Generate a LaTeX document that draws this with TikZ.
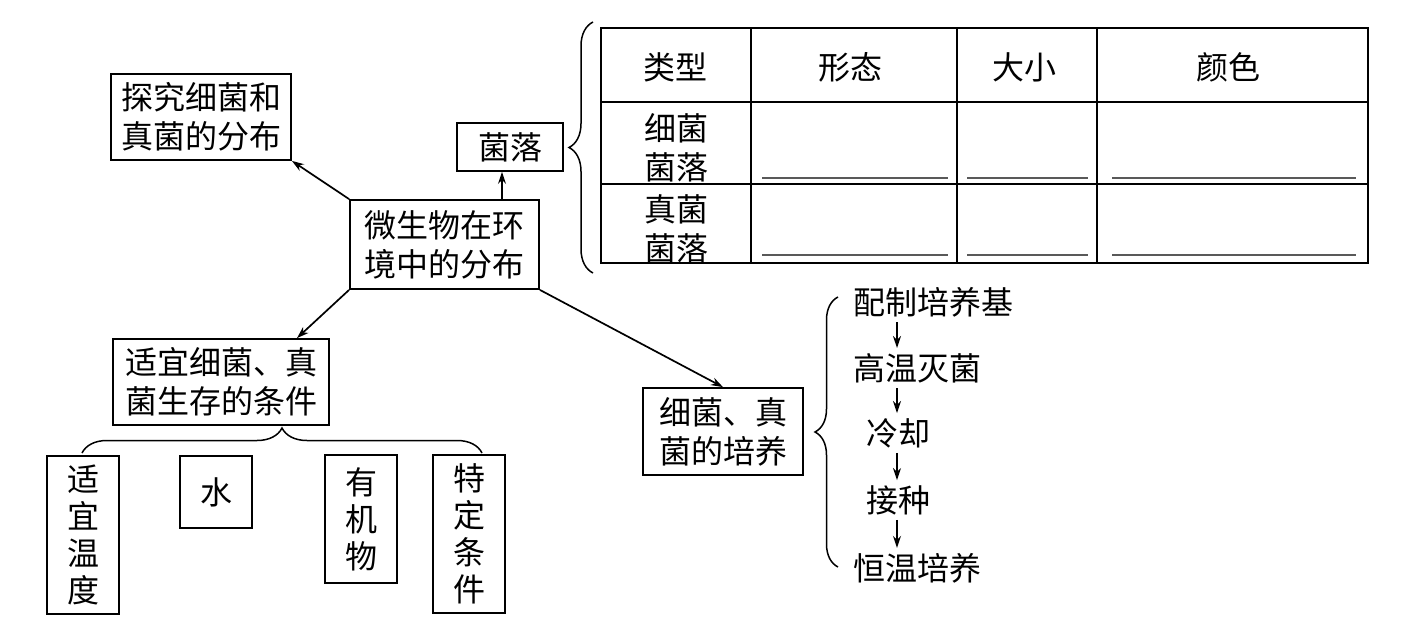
\documentclass[tikz,border=0pt]{standalone}
\usepackage{fontspec}
\setmainfont{Noto Sans CJK SC}
\usetikzlibrary{arrows.meta,decorations.pathreplacing}
\begin{document}
\begin{tikzpicture}[x=1pt,y=-1pt,
 box/.style={draw,line width=1.8pt,inner sep=0pt,align=center,font=\fontsize{32}{39}\selectfont},
 vbox/.style={box,minimum width=72pt,font=\fontsize{32}{37}\selectfont},
 txt/.style={inner xsep=0pt,inner ysep=5pt,align=center,font=\fontsize{32}{39}\selectfont},
 arr/.style={line width=1.7pt,-{Stealth[length=12pt,width=8pt]}},
 brc/.style={line width=1.5pt,decorate,decoration={brace,amplitude=#1}},
 grid/.style={line width=1.8pt},
 blank/.style={line width=1.4pt,black!65}]
\useasboundingbox (0,0) rectangle (1413,628);

% main boxes
\node[box,minimum width=180pt,minimum height=86pt] (explore) at (201,117) {探究细菌和\\真菌的分布};
\node[box,minimum width=106pt,minimum height=48pt] (colony) at (510,147) {菌落};
\node[box,minimum width=189pt,minimum height=89pt] (central) at (444.5,244.5) {微生物在环\\境中的分布};
\node[box,minimum width=216pt,minimum height=86pt] (cond) at (221,382) {适宜细菌、真\\菌生存的条件};
\node[box,minimum width=160pt,minimum height=87pt] (culture) at (723,431.5) {细菌、真\\菌的培养};

% condition boxes
\node[vbox,minimum height=158pt] (temp) at (83,535) {适\\宜\\温\\度};
\node[vbox,minimum height=72pt] (water) at (216,492) {水};
\node[vbox,minimum height=128pt] (organic) at (361,519) {有\\机\\物};
\node[vbox,minimum height=158pt] (special) at (469,534) {特\\定\\条\\件};

% connectors
\draw[arr] (central.north west) -- (explore.south east);
\coordinate (cx) at ([xshift=-8pt]colony.south);
\draw[arr] (cx |- central.north) -- (cx);
\draw[arr] (central.south west) -- ([xshift=76pt]cond.north);
\draw[arr] (central.south east) -- (culture.north);

% brace under conditions
\draw[brc=25pt] (82,453) -- (482,453);

% table
\draw[grid] (601,28) rectangle (1368,263);
\draw[grid] (751,28) -- (751,263);
\draw[grid] (957,28) -- (957,263);
\draw[grid] (1097,28) -- (1097,263);
\draw[grid] (601,102) -- (1368,102);
\draw[grid] (601,184) -- (1368,184);
\node[txt] (h1) at (675,67) {类型};
\node[txt] (h2) at (850,67) {形态};
\node[txt] (h3) at (1024,67) {大小};
\node[txt] (h4) at (1228,67) {颜色};
\node[txt] (r1) at (676,147.5) {细菌\\菌落};
\node[txt] (r2) at (676,228.5) {真菌\\菌落};
\draw[blank] (762,178) -- (948,178);
\draw[blank] (967,178) -- (1088,178);
\draw[blank] (1112,178) -- (1356,178);
\draw[blank] (762,255) -- (948,255);
\draw[blank] (967,255) -- (1088,255);
\draw[blank] (1112,255) -- (1356,255);
\draw[brc=24pt] (593,273) -- (593,22);

% culture steps
\node[txt,anchor=west] (s1) at (853,302) {配制培养基};
\node[txt,anchor=west] (s2) at (853,368) {高温灭菌};
\node[txt] (s3) at (898,433) {冷却};
\node[txt] (s4) at (898,500) {接种};
\node[txt,anchor=west] (s5) at (853,568) {恒温培养};
\coordinate (ax) at (897,0);
\draw[arr] (s1.south -| ax) -- (s2.north -| ax);
\draw[arr] (s2.south -| ax) -- (s3.north -| ax);
\draw[arr] (s3.south -| ax) -- (s4.north -| ax);
\draw[arr] (s4.south -| ax) -- (s5.north -| ax);
\draw[brc=23pt] (838,567) -- (838,297);
\end{tikzpicture}
\end{document}
